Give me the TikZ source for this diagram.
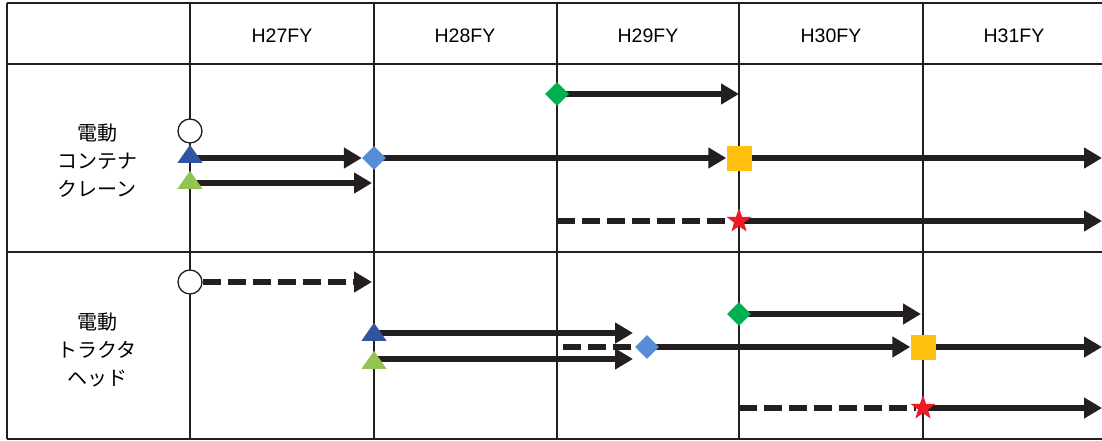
\documentclass[tikz,border=0pt]{standalone}
\usepackage{fontspec}
\setmainfont{Liberation Sans}
\newfontfamily\jpfont{Noto Sans CJK JP}
\usetikzlibrary{arrows.meta,shapes.geometric,backgrounds}
\definecolor{LineBlack}{RGB}{35,31,32}
\definecolor{TriBlue}{RGB}{47,84,160}
\definecolor{TriGreen}{RGB}{146,196,80}
\definecolor{DiaBlue}{RGB}{85,142,213}
\definecolor{DiaGreen}{RGB}{0,176,80}
\definecolor{BoxYellow}{RGB}{255,192,16}
\definecolor{StarRed}{RGB}{237,28,36}
\tikzset{
	grid line/.style={draw=LineBlack,line width=1.6pt},
	arr/.style={draw=LineBlack,line width=6.5pt,-{Triangle[length=18pt,width=20pt]}},
	darr/.style={arr,dash pattern=on 18pt off 7pt},
	dline/.style={draw=LineBlack,line width=6.5pt,dash pattern=on 18pt off 7pt},
	startc/.style={circle,draw=LineBlack,fill=white,line width=1.3pt,minimum size=24pt,inner sep=0pt},
	tri/.style={isosceles triangle,isosceles triangle apex angle=70,isosceles triangle stretches,
		shape border rotate=90,minimum width=25pt,minimum height=18pt,inner sep=0pt,anchor=lower side},
	dia/.style={diamond,minimum size=24pt,inner sep=0pt},
	sqbox/.style={rectangle,minimum size=25pt,inner sep=0pt,fill=BoxYellow},
	goalstar/.style={star,star points=5,star point ratio=2.5,minimum size=26pt,inner sep=0pt,fill=StarRed},
	yearlabel/.style={font=\fontsize{19.5}{24}\selectfont},
	rowlabel/.style={font=\jpfont\fontsize{20}{28}\selectfont,align=center},
}

\begin{document}
\begin{tikzpicture}[x=1pt,y=-1pt]
	\useasboundingbox (0,0) rectangle (1102,441);
	% header and row labels
	\foreach \xc/\yr in {282/27,465/28,648/29,831/30,1014/31}
		\node[yearlabel] (y\yr) at (\xc,36) {H\yr FY};
	\node[rowlabel] (crane) at (97,161) {電動\\コンテナ\\クレーン};
	\node[rowlabel] (tractor) at (97,350) {電動\\トラクタ\\ヘッド};
	% container crane
	\node[dia,fill=DiaGreen] (g1) at (557,94) {};
	\node[startc] (c1) at (190,131) {};
	\node[tri,fill=TriBlue] (t1) at (190,163) {};
	\node[tri,fill=TriGreen] (t2) at (190,189) {};
	\node[dia,fill=DiaBlue] (d1) at (374,158) {};
	\node[sqbox] (q1) at (739,158) {};
	\node[goalstar] (s1) at (739,221) {};
	\coordinate (g1e) at (739,94);
	\coordinate (t1s) at (190,158);
	\coordinate (q1e) at (1102,158);
	\coordinate (t2s) at (190,183);
	\coordinate (t2e) at (372,183);
	\coordinate (s1s) at (557,221);
	\coordinate (s1e) at (1102,221);
	% tractor head
	\node[startc] (c2) at (190,282) {};
	\node[dia,fill=DiaGreen] (g2) at (739,314) {};
	\node[tri,fill=TriBlue] (t3) at (374,341) {};
	\node[tri,fill=TriGreen] (t4) at (374,369) {};
	\node[dia,fill=DiaBlue] (d2) at (647,347) {};
	\node[sqbox] (q2) at (923,347) {};
	\node[goalstar] (s2) at (923,408) {};
	\coordinate (c2e) at (372,282);
	\coordinate (g2e) at (921,314);
	\coordinate (t3s) at (374,333);
	\coordinate (t3e) at (633,333);
	\coordinate (t4s) at (374,359);
	\coordinate (t4e) at (633,359);
	\coordinate (d2s) at (563,347);
	\coordinate (q2e) at (1102,347);
	\coordinate (s2s) at (739,408);
	\coordinate (s2e) at (1102,408);
	\begin{scope}[on background layer]
		\foreach \yl in {3,64,252,439}
			\draw[grid line] (7,\yl) -- (1102,\yl);
		\foreach \xl in {7,190,374,557,739,923}
			\draw[grid line] (\xl,3) -- (\xl,439);
		\draw[arr] (g1.center) -- (g1e);
		\draw[arr] (t1s) -- (d1);
		\draw[arr] (d1.center) -- (q1);
		\draw[arr] (q1.center) -- (q1e);
		\draw[arr] (t2s) -- (t2e);
		\draw[dline] (s1s) -- (s1);
		\draw[arr] (s1.center) -- (s1e);
		\draw[darr] (c2) -- (c2e);
		\draw[arr] (g2.center) -- (g2e);
		\draw[arr] (t3s) -- (t3e);
		\draw[arr] (t4s) -- (t4e);
		\draw[dline] (d2s) -- (d2);
		\draw[arr] (d2.center) -- (q2);
		\draw[arr] (q2.center) -- (q2e);
		\draw[dline] (s2s) -- (s2);
		\draw[arr] (s2.center) -- (s2e);
	\end{scope}
\end{tikzpicture}
\end{document}
